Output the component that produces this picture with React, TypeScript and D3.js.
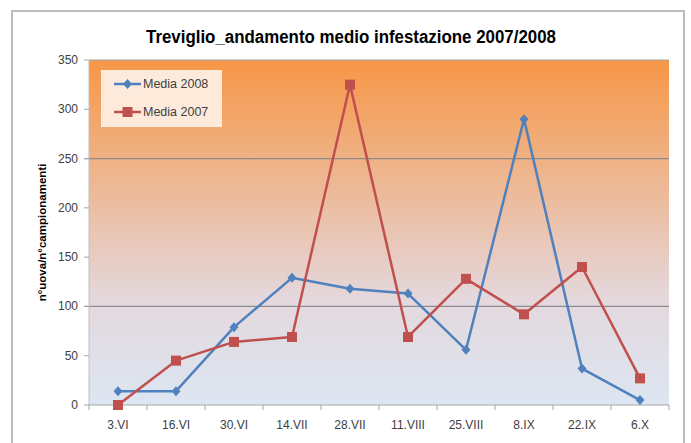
import React from "react";
import * as d3 from "d3";

const categories = ["3.VI", "16.VI", "30.VI", "14.VII", "28.VII", "11.VIII", "25.VIII", "8.IX", "22.IX", "6.X"];
const media2008 = [14, 14, 79, 129, 118, 113, 56, 290, 37, 5];
const media2007 = [0, 45, 64, 69, 325, 69, 128, 92, 140, 27];
const yTicks = [0, 50, 100, 150, 200, 250, 300, 350];
const gridValues = [100, 250];

const W = 691, H = 443;
const left = 89, right = 669, top = 60, bottom = 405;

export default function App() {
  const x = d3.scaleBand<string>().domain(categories).range([left, right]);
  const y = d3.scaleLinear().domain([0, 350]).range([bottom, top]);
  const cx = (c: string) => (x(c) as number) + x.bandwidth() / 2;
  const line = d3.line<number>().x((_, i) => cx(categories[i])).y((d) => y(d));
  const font = "'Liberation Sans Narrow', 'Liberation Sans', Arial, sans-serif";
  const blue = "#4F81BD", red = "#C0504D";
  const diamond = "M0,-5L4.5,0L0,5L-4.5,0Z";
  return (
    <svg width={W} height={H} style={{ position: "absolute", left: 0, top: 0 }} fontFamily={font}>
      <defs>
        <linearGradient id="bg" x1="0" y1="0" x2="0" y2="1">
          <stop offset="0" stopColor="#F79646" />
          <stop offset="0.7" stopColor="#E4D8DE" />
          <stop offset="1" stopColor="#DCE6F2" />
        </linearGradient>
      </defs>
      <rect x={0} y={0} width={W} height={H} fill="#fff" />
      <rect x={12} y={11} width={672} height={440} fill="#fff" stroke="#A6A6A6" strokeWidth={1.5} />
      <text x={351} y={43} textAnchor="middle" fontSize={18} fontWeight="bold" fill="#000" textLength={410} lengthAdjust="spacingAndGlyphs">
        Treviglio_andamento medio infestazione 2007/2008
      </text>
      <rect x={left} y={top} width={right - left} height={bottom - top} fill="url(#bg)" />
      {gridValues.map((v) => (
        <line key={v} x1={left - 5} x2={right} y1={y(v)} y2={y(v)} stroke="#8C8C8C" strokeWidth={1.2} />
      ))}
      <line x1={left} x2={right} y1={top} y2={top} stroke="#A6A6A6" strokeWidth={1.2} />
      <line x1={left} x2={left} y1={top} y2={bottom} stroke="#BFBFBF" strokeWidth={1} />
      <line x1={left} x2={right} y1={bottom} y2={bottom} stroke="#A6A6A6" strokeWidth={1.2} />
      {yTicks.map((t) => (
        <g key={t}>
          <line x1={left - 5} x2={left} y1={y(t)} y2={y(t)} stroke="#A6A6A6" />
          <text x={78} y={y(t) + 4} textAnchor="end" fontSize={12} fill="#404040">{t}</text>
        </g>
      ))}
      {d3.range(categories.length + 1).map((i) => (
        <line key={i} x1={left + i * x.step()} x2={left + i * x.step()} y1={bottom} y2={bottom + 5} stroke="#A6A6A6" />
      ))}
      {categories.map((c) => (
        <text key={c} x={cx(c)} y={429} textAnchor="middle" fontSize={12} fill="#404040">{c}</text>
      ))}
      <text transform={`translate(46,${(top + bottom) / 2}) rotate(-90)`} textAnchor="middle" fontSize={11.5} fontWeight="bold" fill="#000">
        n°uova/n°campionamenti
      </text>
      <path d={line(media2008) as string} fill="none" stroke={blue} strokeWidth={2.5} strokeLinejoin="round" />
      <path d={line(media2007) as string} fill="none" stroke={red} strokeWidth={2.5} strokeLinejoin="round" />
      {media2008.map((v, i) => (
        <path key={"b" + i} d={diamond} transform={`translate(${cx(categories[i])},${y(v)})`} fill={blue} />
      ))}
      {media2007.map((v, i) => (
        <rect key={"r" + i} x={cx(categories[i]) - 5} y={y(v) - 5} width={10} height={10} fill={red} />
      ))}
      <g>
        <rect x={101} y={70} width={121} height={57} fill="#FDEADA" />
        <line x1={114} x2={141} y1={84} y2={84} stroke={blue} strokeWidth={2.5} />
        <path d={diamond} transform="translate(127.5,84)" fill={blue} />
        <text x={143} y={88} fontSize={12.5} fill="#404040">Media 2008</text>
        <line x1={114} x2={141} y1={112} y2={112} stroke={red} strokeWidth={2.5} />
        <rect x={122.5} y={107} width={10} height={10} fill={red} />
        <text x={143} y={116} fontSize={12.5} fill="#404040">Media 2007</text>
      </g>
    </svg>
  );
}
